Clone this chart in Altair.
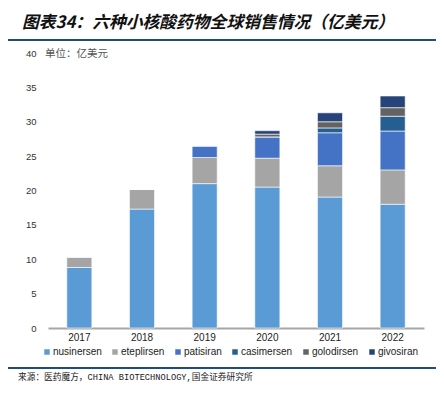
import altair as alt
import pandas as pd

years = ["2017", "2018", "2019", "2020", "2021", "2022"]
drugs = ["nusinersen", "eteplirsen", "patisiran", "casimersen", "golodirsen", "givosiran"]
colors = ["#5B9BD5", "#A5A5A5", "#4472C4", "#255E91", "#636363", "#264478"]
nusinersen = [8.8, 17.3, 21.0, 20.5, 19.05, 18.0]
eteplirsen = [1.55, 2.9, 3.8, 4.2, 4.55, 5.0]
patisiran = [0.0, 0.0, 1.7, 3.1, 4.8, 5.65]
casimersen = [0.0, 0.0, 0.0, 0.0, 0.7, 2.15]
golodirsen = [0.0, 0.0, 0.0, 0.4, 0.9, 1.25]
givosiran = [0.0, 0.0, 0.0, 0.5, 1.3, 1.7]
y_ticks = [0, 5, 10, 15, 20, 25, 30, 35, 40]

title_text = "图表34：六种小核酸药物全球销售情况（亿美元）"
unit_text = "单位：亿美元"
source_text = "来源：医药魔方，CHINA BIOTECHNOLOGY,国金证券研究所"

series = [nusinersen, eteplirsen, patisiran, casimersen, golodirsen, givosiran]
rows = []
for d_i, (name, vals) in enumerate(zip(drugs, series)):
    for y, v in zip(years, vals):
        rows.append({"year": y, "drug": name, "value": v, "order": d_i})
df = pd.DataFrame(rows)

W, H = 376, 275

bars = alt.Chart(df).mark_bar(stroke="white", strokeWidth=0.6).encode(
    x=alt.X("year:N", sort=years, title=None,
            scale=alt.Scale(paddingInner=0.6, paddingOuter=0.3),
            axis=alt.Axis(labelAngle=0, labelFontSize=10, labelColor="#222222",
                          labelFont="Liberation Sans", ticks=False, domainColor="#A6A6A6",
                          domainWidth=2, labelPadding=4)),
    y=alt.Y("value:Q", stack="zero", title=None,
            scale=alt.Scale(domain=[0, 40], nice=False),
            axis=alt.Axis(values=y_ticks, grid=False, domain=False, ticks=False,
                          labelFontSize=9.5, labelColor="#333333", labelFont="Liberation Sans",
                          labelPadding=12)),
    color=alt.Color("drug:N", sort=drugs,
                    scale=alt.Scale(domain=drugs, range=colors),
                    legend=alt.Legend(title=None, orient="none", legendX=-6, legendY=H + 19,
                                      direction="horizontal", symbolType="square",
                                      symbolSize=30, symbolStrokeWidth=0,
                                      labelFontSize=10, labelFont="Liberation Sans",
                                      labelColor="#222222", columnPadding=8,
                                      labelOffset=1)),
    order=alt.Order("order:Q"),
)

def txt(s, x, y, size, **kw):
    return alt.Chart(pd.DataFrame({"t": [s]})).mark_text(
        fontSize=size, align="left", baseline="middle", **kw
    ).encode(text="t:N", x=alt.value(x), y=alt.value(y))

title = txt(title_text, -26, -30, 16.8, font="Noto Sans CJK SC", fontWeight="bold",
            fontStyle="italic", color="#111111")
unit = txt(unit_text, -3, 1, 10.5, font="Noto Sans CJK SC", color="#555555")
source = txt(source_text, -30, H + 49, 8.7, font="Liberation Mono, Noto Sans CJK SC",
             color="#222222")

def hline(y):
    return alt.Chart(pd.DataFrame({"a": [0]})).mark_rule(color="#1F4E79", strokeWidth=2).encode(
        x=alt.value(-40), x2=alt.value(W + 12), y=alt.value(y))

chart = alt.layer(bars, title, unit, source, hline(-13), hline(H + 40)).properties(
    width=W, height=H,
    autosize=alt.AutoSizeParams(type="none"),
    padding={"left": 40, "top": 45, "right": 12, "bottom": 57},
).configure_view(stroke=None)

chart.save("out.html", embed_options={"renderer": "svg", "actions": False})
